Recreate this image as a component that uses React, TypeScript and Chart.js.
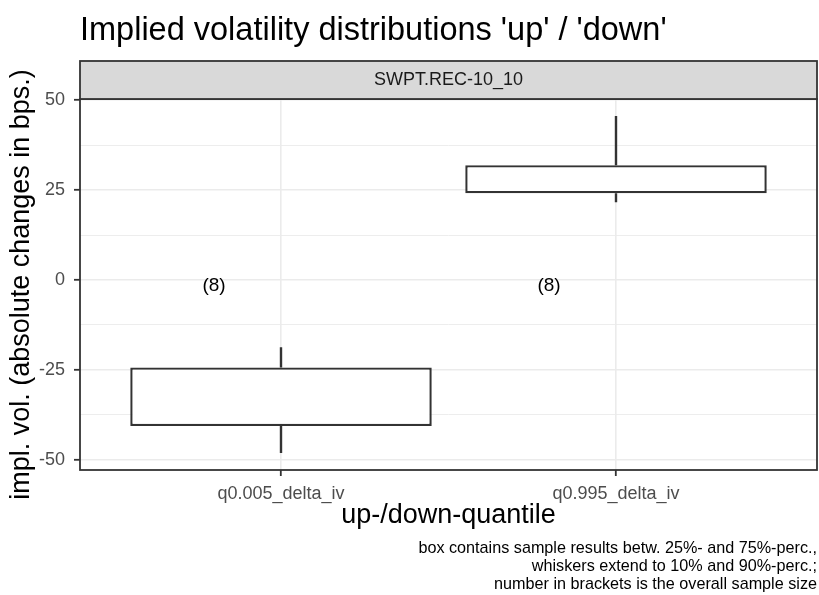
import React, { useEffect, useRef } from "react";
import { Chart, registerables } from "chart.js";

Chart.register(...registerables);

const FONT = '"Liberation Sans", Arial, Helvetica, sans-serif';

const categories = ["q0.005_delta_iv", "q0.995_delta_iv"];
const q10 = [-48.1, 21.6];
const q25 = [-40.6, 24.1];
const q75 = [-24.3, 31.9];
const q90 = [-18.7, 45.6];
const sampleSizes = [8, 8];
const yMajorTicks = [-50, -25, 0, 25, 50];
const yMinorTicks = [-37.5, -12.5, 12.5, 37.5];
const facetLabel = "SWPT.REC-10_10";
const titleText = "Implied volatility distributions 'up' / 'down'";
const yTitle = "impl. vol. (absolute changes in bps.)";
const xTitle = "up-/down-quantile";
const captionLines = [
  "box contains sample results betw. 25%- and 75%-perc.,",
  "whiskers extend to 10% and 90%-perc.;",
  "number in brackets is the overall sample size",
];

const decorPlugin = {
  id: "decor",
  afterDatasetsDraw(chart: any) {
    const { ctx, chartArea, scales } = chart;
    const { left, right, top, bottom } = chartArea;
    const x = scales.x;
    const y = scales.y;
    ctx.save();
    // sample-size labels
    ctx.font = `19px ${FONT}`;
    ctx.fillStyle = "#000000";
    ctx.textAlign = "center";
    ctx.textBaseline = "alphabetic";
    categories.forEach((_, i) => {
      ctx.fillText(
        `(${sampleSizes[i]})`,
        x.getPixelForValue(i + 1 - 0.2),
        y.getPixelForValue(0) + 11
      );
    });
    // panel border
    ctx.strokeStyle = "#333333";
    ctx.lineWidth = 1.8;
    ctx.strokeRect(left, top, right - left, bottom - top);
    // strip
    const stripH = 38;
    ctx.fillStyle = "#d9d9d9";
    ctx.fillRect(left, top - stripH, right - left, stripH);
    ctx.strokeRect(left, top - stripH, right - left, stripH);
    ctx.fillStyle = "#1a1a1a";
    ctx.font = `18px ${FONT}`;
    ctx.textBaseline = "middle";
    ctx.fillText(facetLabel, (left + right) / 2, top - stripH / 2);
    // title
    ctx.fillStyle = "#000000";
    ctx.textAlign = "left";
    ctx.textBaseline = "alphabetic";
    ctx.font = `32.5px ${FONT}`;
    ctx.fillText(titleText, left, 40);
    // caption
    ctx.textAlign = "right";
    ctx.font = `16.2px ${FONT}`;
    captionLines.forEach((line, i) => ctx.fillText(line, right, 553 + 18 * i));
    ctx.restore();
  },
};

export default function App() {
  const canvasRef = useRef<HTMLCanvasElement | null>(null);

  useEffect(() => {
    if (!canvasRef.current) return;
    const whiskerSets = categories.map((_, i) => ({
      type: "line" as const,
      data: [
        { x: i + 1, y: q10[i] },
        { x: i + 1, y: q25[i] },
        { x: i + 1, y: null },
        { x: i + 1, y: q75[i] },
        { x: i + 1, y: q90[i] },
      ],
      borderColor: "#333333",
      borderWidth: 2.4,
      pointRadius: 0,
      spanGaps: false,
      fill: false,
    }));
    const boxSet = {
      type: "bar" as const,
      data: categories.map((_, i) => ({ x: i + 1, y: [q25[i], q75[i]] })),
      backgroundColor: "#ffffff",
      borderColor: "#333333",
      borderWidth: 2.4,
      borderSkipped: false,
      barPercentage: 0.9,
      categoryPercentage: 1.0,
    };
    const allY = [...yMajorTicks, ...yMinorTicks].sort((a, b) => a - b);
    const chart = new Chart(canvasRef.current, {
      type: "bar",
      data: { datasets: [...whiskerSets, boxSet] as any },
      options: {
        animation: false,
        responsive: true,
        maintainAspectRatio: false,
        layout: { padding: { top: 99, left: 0, right: 2, bottom: 60 } },
        plugins: {
          legend: { display: false },
          tooltip: { enabled: false },
          title: { display: false },
        },
        scales: {
          x: {
            type: "linear",
            min: 0.4,
            max: 2.6,
            offset: false,
            afterBuildTicks: (scale: any) => {
              scale.ticks = categories.map((_, i) => ({ value: i + 1 }));
            },
            afterFit: (scale: any) => {
              scale.height = 65;
            },
            ticks: {
              callback: (v: any) => categories[Math.round(Number(v)) - 1] ?? "",
              color: "#4d4d4d",
              font: { family: FONT, size: 18 },
              padding: 7,
              maxRotation: 0,
              autoSkip: false,
            },
            grid: {
              offset: false,
              color: "#ebebeb",
              lineWidth: 1.6,
              tickLength: 6,
              tickColor: "#333333",
              tickWidth: 1.8,
            },
            border: { display: false },
            title: {
              display: true,
              text: xTitle,
              color: "#000000",
              font: { family: FONT, size: 27, lineHeight: 1 },
              padding: { top: 0, bottom: 6 },
            },
          },
          y: {
            type: "linear",
            min: -52.8,
            max: 50.3,
            afterBuildTicks: (scale: any) => {
              scale.ticks = allY.map((v) => ({ value: v }));
            },
            afterFit: (scale: any) => {
              scale.width = 80;
            },
            ticks: {
              callback: (v: any) =>
                yMajorTicks.includes(Number(v)) ? String(v) : "",
              color: "#4d4d4d",
              font: { family: FONT, size: 18 },
              padding: 9,
              autoSkip: false,
            },
            grid: {
              color: "#ebebeb",
              lineWidth: (c: any) =>
                yMajorTicks.includes(c.tick?.value) ? 1.6 : 0.9,
              tickLength: 6,
              tickColor: (c: any) =>
                yMajorTicks.includes(c.tick?.value) ? "#333333" : "rgba(0,0,0,0)",
              tickWidth: 1.8,
            },
            border: { display: false },
            title: {
              display: true,
              text: yTitle,
              color: "#000000",
              font: { family: FONT, size: 27, lineHeight: 1 },
              padding: { top: 8, bottom: 0 },
            },
          },
        },
      },
      plugins: [decorPlugin],
    });
    return () => chart.destroy();
  }, []);

  return (
    <div
      style={{
        position: "absolute",
        left: 0,
        top: 0,
        width: 819,
        height: 595,
        background: "#ffffff",
      }}
    >
      <canvas ref={canvasRef} />
    </div>
  );
}
